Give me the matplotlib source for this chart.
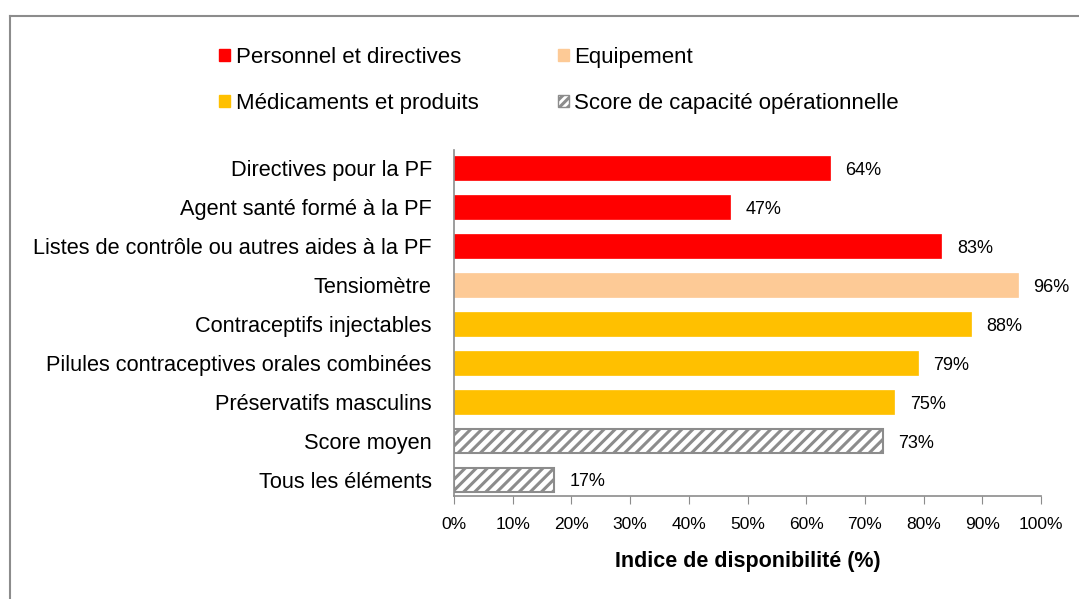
import numpy as np
import matplotlib.pyplot as plt
from matplotlib.patches import Patch
from matplotlib.lines import Line2D

# data
categories = ['Directives pour la PF', 'Agent santé formé à la PF',
              'Listes de contrôle ou autres aides à la PF', 'Tensiomètre',
              'Contraceptifs injectables', 'Pilules contraceptives orales combinées',
              'Préservatifs masculins', 'Score moyen', 'Tous les éléments']
values = [64, 47, 83, 96, 88, 79, 75, 73, 17]
groups = ['perso', 'perso', 'perso', 'equip', 'medic', 'medic', 'medic', 'score', 'score']
xticks = list(range(0, 101, 10))

colors = {'perso': '#FF0000', 'equip': '#FDCA96', 'medic': '#FFC000', 'score': 'white'}
legend_labels = {'perso': 'Personnel et directives', 'equip': 'Equipement',
                 'medic': 'Médicaments et produits', 'score': 'Score de capacité opérationnelle'}

plt.rcParams['font.family'] = ['Liberation Sans', 'DejaVu Sans']
plt.rcParams['hatch.linewidth'] = 2.2
plt.rcParams['hatch.color'] = '#8C8C8C'

fig = plt.figure(figsize=(10.79, 5.99), dpi=100)
ax = fig.add_axes([454/1079, 1-496/599, 587/1079, 346/599])

y = np.arange(len(categories))
for i, (v, g) in enumerate(zip(values, groups)):
    if g == 'score':
        ax.barh(i, v, height=0.62, color='white', edgecolor='#8C8C8C',
                hatch='///', linewidth=1.5)
    else:
        ax.barh(i, v, height=0.62, color=colors[g], edgecolor=colors[g], linewidth=0.5)
    ax.text(v + 2.7, i + 0.05, f'{v}%', va='center', ha='left', fontsize=13)

ax.set_xlim(0, 100)
ax.set_ylim(8.41, -0.47)
ax.set_yticks(y)
ax.set_yticklabels(categories, fontsize=15.7)
ax.set_xticks(xticks)
ax.set_xticklabels([f'{t}%' for t in xticks], fontsize=12.5)
ax.tick_params(axis='y', length=0, pad=16)
ax.tick_params(axis='x', length=6, color='#8C8C8C', pad=9)
for s in ['top', 'right']:
    ax.spines[s].set_visible(False)
for s in ['left', 'bottom']:
    ax.spines[s].set_color('#8C8C8C')
    ax.spines[s].set_linewidth(1.2)
ax.set_xlabel('Indice de disponibilité (%)', fontsize=15.5, fontweight='bold', labelpad=14)

order = ['perso', 'medic', 'equip', 'score']
handles = []
for g in order:
    if g == 'score':
        handles.append(Patch(facecolor='white', edgecolor='#8C8C8C', hatch='////',
                             linewidth=1, label=legend_labels[g]))
    else:
        handles.append(Patch(facecolor=colors[g], edgecolor=colors[g], label=legend_labels[g]))
fig.legend(handles=handles, ncol=2, loc='upper left', bbox_to_anchor=(199/1079, 1-27/599),
           frameon=False, fontsize=16, handlelength=0.5, handleheight=0.5,
           handletextpad=0.25, columnspacing=3.57, labelspacing=1.12)

# outer frame
fig.add_artist(Line2D([10/1079, 1], [1-16/599, 1-16/599], color='#8C8C8C', lw=1.5,
                      transform=fig.transFigure))
fig.add_artist(Line2D([10/1079, 10/1079], [0, 1-16/599], color='#8C8C8C', lw=1.5,
                      transform=fig.transFigure))

fig.savefig('out.png', dpi=100)
